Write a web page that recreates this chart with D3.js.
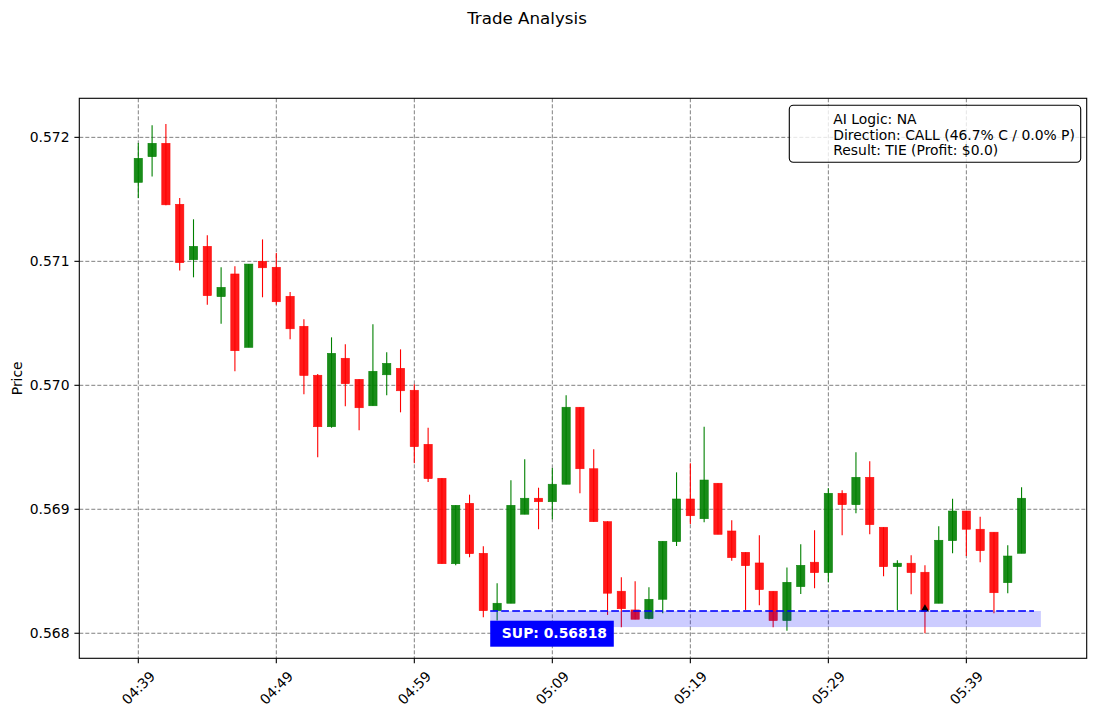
<!DOCTYPE html>
<html><head><meta charset="utf-8">
<script src="https://cdn.jsdelivr.net/npm/d3@7"></script>
<style>
body{margin:0;background:#fff}
svg{display:block}
text{font-family:"DejaVu Sans",sans-serif}
</style>
</head><body>
<svg id="chart" width="1096" height="716"></svg>
<script>
const times = ["04:39","04:40","04:41","04:42","04:43","04:44","04:45","04:46","04:47","04:48",
"04:49","04:50","04:51","04:52","04:53","04:54","04:55","04:56","04:57","04:58",
"04:59","05:00","05:01","05:02","05:03","05:04","05:05","05:06","05:07","05:08",
"05:09","05:10","05:11","05:12","05:13","05:14","05:15","05:16","05:17","05:18",
"05:19","05:20","05:21","05:22","05:23","05:24","05:25","05:26","05:27","05:28",
"05:29","05:30","05:31","05:32","05:33","05:34","05:35","05:36","05:37","05:38",
"05:39","05:40","05:41","05:42","05:43"];
const opens = [0.571637,0.571844,0.571952,0.571460,0.571013,0.571121,0.570715,0.570898,0.570306,0.571000,
0.570952,0.570718,0.570476,0.570081,0.569666,0.570218,0.570048,0.569835,0.570085,0.570137,
0.569960,0.569524,0.569250,0.568561,0.569048,0.568645,0.568182,0.568242,0.568960,0.569089,
0.569061,0.569202,0.569823,0.569327,0.568900,0.568339,0.568188,0.568118,0.568274,0.568739,
0.569083,0.568924,0.569210,0.568825,0.568653,0.568567,0.568339,0.568102,0.568376,0.568573,
0.568489,0.569129,0.569037,0.569258,0.568855,0.568537,0.568565,0.568492,0.568242,0.568747,
0.568986,0.568839,0.568815,0.568408,0.568645];
const highs = [0.571954,0.572097,0.572107,0.571510,0.571339,0.571210,0.570952,0.570960,0.570978,0.571177,
0.571067,0.570752,0.570532,0.570091,0.570387,0.570331,0.570048,0.570492,0.570266,0.570290,
0.570008,0.569658,0.569250,0.569032,0.569118,0.568702,0.568403,0.569234,0.569403,0.569174,
0.569333,0.569919,0.569823,0.569484,0.568903,0.568452,0.568419,0.568371,0.568742,0.569298,
0.569371,0.569666,0.569210,0.568911,0.568653,0.568790,0.568339,0.568531,0.568718,0.568831,
0.569169,0.569153,0.569460,0.569387,0.568855,0.568589,0.568629,0.568548,0.568863,0.569085,
0.568986,0.568940,0.568815,0.568710,0.569177];
const lows = [0.571510,0.571685,0.571452,0.570927,0.570871,0.570650,0.570497,0.570113,0.570306,0.570710,
0.570650,0.570371,0.569928,0.569419,0.569658,0.569831,0.569637,0.569835,0.569919,0.569782,
0.569371,0.569220,0.568561,0.568548,0.568613,0.568129,0.568102,0.568242,0.568960,0.568839,
0.568919,0.569202,0.569129,0.568900,0.568148,0.568048,0.568113,0.568113,0.568161,0.568704,
0.568881,0.568895,0.568798,0.568585,0.568188,0.568226,0.568048,0.568020,0.568317,0.568363,
0.568411,0.568790,0.568968,0.568798,0.568460,0.568188,0.568315,0.568000,0.568242,0.568645,
0.568623,0.568573,0.568161,0.568323,0.568645];
const closes = [0.571831,0.571952,0.571456,0.570989,0.571121,0.570723,0.570790,0.570279,0.570978,0.570948,
0.570674,0.570456,0.570079,0.569666,0.570258,0.570013,0.569819,0.570113,0.570177,0.569956,
0.569505,0.569247,0.568561,0.569032,0.568642,0.568182,0.568242,0.569032,0.569089,0.569061,
0.569202,0.569823,0.569327,0.568900,0.568323,0.568198,0.568113,0.568274,0.568742,0.569083,
0.568948,0.569236,0.568798,0.568610,0.568545,0.568352,0.568102,0.568411,0.568548,0.568489,
0.569129,0.569037,0.569258,0.568876,0.568537,0.568565,0.568489,0.568188,0.568750,0.568986,
0.568839,0.568666,0.568327,0.568623,0.569089];
const xTickLabels = ["04:39","04:49","04:59","05:09","05:19","05:29","05:39"];
const yTickValues = [0.568,0.569,0.570,0.571,0.572];
const supportLevel = 0.56818;
const supportZoneLow = 0.568050;
const supportStart = "05:04:30";
const supportLineEnd = "05:43:54";
const supportZoneEnd = "05:44:24";
const supportLabel = " SUP: 0.56818";
const entryTime = "05:36";
const entryPrice = 0.568195;
const infoLines = ["AI Logic: NA","Direction: CALL (46.7% C / 0.0% P)","Result: TIE (Profit: $0.0)"];
const titleText = "Trade Analysis";
const yAxisTitle = "Price";

const parseHM = d3.timeParse("%H:%M");
const parseHMS = d3.timeParse("%H:%M:%S");
const MIN = 60000;
const candles = times.map((t,i)=>({t:parseHM(t),o:opens[i],h:highs[i],l:lows[i],c:closes[i]}));
const t0 = candles[0].t.getTime();

const L=79.3,R=1086.7,T=98.3,B=658.3;
const x = d3.scaleTime().domain([new Date(t0-4.275*MIN), new Date(t0+68.72*MIN)]).range([L,R]);
const y = d3.scaleLinear().domain([0.567798,0.572315]).range([B,T]);

const svg = d3.select("#chart");
const gridColor="#808080";

// grid
const xt = xTickLabels.map(parseHM);
svg.append("g").selectAll("line").data(xt).join("line")
  .attr("x1",d=>x(d)).attr("x2",d=>x(d)).attr("y1",T).attr("y2",B)
  .attr("stroke",gridColor).attr("stroke-width",1).attr("stroke-dasharray","4,2");
svg.append("g").selectAll("line").data(yTickValues).join("line")
  .attr("y1",d=>y(d)).attr("y2",d=>y(d)).attr("x1",L).attr("x2",R)
  .attr("stroke",gridColor).attr("stroke-width",1).attr("stroke-dasharray","4,2");

// candles
const halfW = (x(new Date(t0+0.6*MIN))-x(new Date(t0)))/2;
const col = d=>d.c>=d.o?"#008000":"#ff0000";
svg.append("g").selectAll("line").data(candles).join("line")
  .attr("x1",d=>x(d.t)).attr("x2",d=>x(d.t)).attr("y1",d=>y(d.h)).attr("y2",d=>y(d.l))
  .attr("stroke",col).attr("stroke-width",1.1);
svg.append("g").selectAll("rect").data(candles).join("rect")
  .attr("x",d=>x(d.t)-halfW).attr("width",2*halfW)
  .attr("y",d=>y(Math.max(d.o,d.c)))
  .attr("height",d=>Math.max(0.6,Math.abs(y(d.o)-y(d.c))))
  .attr("fill",col).attr("fill-opacity",0.9)
  .attr("stroke",col).attr("stroke-opacity",0.9).attr("stroke-width",0.6);

// entry marker
const ex=x(parseHM(entryTime)), ey=y(entryPrice);
svg.append("path").attr("d",d3.symbol().type(d3.symbolTriangle).size(30)())
  .attr("transform",`translate(${ex},${ey})`).attr("fill","#000");

// support zone
const xs=x(parseHMS(supportStart)), xle=x(parseHMS(supportLineEnd)), xze=x(parseHMS(supportZoneEnd));
svg.append("rect").attr("x",xs).attr("width",xze-xs)
  .attr("y",y(supportLevel)).attr("height",y(supportZoneLow)-y(supportLevel))
  .attr("fill","#0000ff").attr("fill-opacity",0.2);
svg.append("line").attr("x1",xs).attr("x2",xle).attr("y1",y(supportLevel)).attr("y2",y(supportLevel))
  .attr("stroke","#0000ff").attr("stroke-opacity",0.8).attr("stroke-width",2.1).attr("stroke-dasharray","7.7,3.3");

// support label
const lblG = svg.append("g");
const lblRect = lblG.append("rect").attr("fill","#0000ff");
const lblText = lblG.append("text").attr("x",xs+6.8).attr("y",638.3)
  .attr("fill","#fff").attr("font-weight","bold").attr("font-size",13.9)
  .attr("xml:space","preserve").style("white-space","pre").text(supportLabel);
const lw = lblText.node().getComputedTextLength();
lblRect.attr("x",xs).attr("y",620.7).attr("width",lw+13.6).attr("height",26);

// spines
svg.append("rect").attr("x",L).attr("y",T).attr("width",R-L).attr("height",B-T)
  .attr("fill","none").attr("stroke","#000").attr("stroke-width",1.1);

// x ticks
const tickLen=4.9;
const xg = svg.append("g");
xt.forEach((d,i)=>{
  const px=x(d);
  xg.append("line").attr("x1",px).attr("x2",px).attr("y1",B).attr("y2",B+tickLen).attr("stroke","#000").attr("stroke-width",1.1);
  const tx = xg.append("text").attr("font-size",13.9).attr("text-anchor","middle").attr("dominant-baseline","central").text(xTickLabels[i]);
  const w = tx.node().getComputedTextLength();
  const h = 16;
  const cy = B+tickLen+4.9+(w+h)*Math.SQRT1_2/2;
  tx.attr("transform",`translate(${px},${cy}) rotate(-45)`);
});
// y ticks
const yg = svg.append("g");
yTickValues.forEach(v=>{
  const py=y(v);
  yg.append("line").attr("x1",L-tickLen).attr("x2",L).attr("y1",py).attr("y2",py).attr("stroke","#000").attr("stroke-width",1.1);
  yg.append("text").attr("x",L-tickLen-4.9).attr("y",py).attr("font-size",13.9)
    .attr("text-anchor","end").attr("dominant-baseline","central").text(d3.format(".3f")(v));
});

// axis title
svg.append("text").attr("transform",`translate(17,${(T+B)/2}) rotate(-90)`)
  .attr("text-anchor","middle").attr("dominant-baseline","central").attr("font-size",13.9).text(yAxisTitle);
// title
svg.append("text").attr("x",527).attr("y",24).attr("text-anchor","middle").attr("font-size",16.7).text(titleText);

// info box
svg.append("rect").attr("x",789.3).attr("y",105.3).attr("width",291.4).attr("height",57)
  .attr("rx",4).attr("ry",4).attr("fill","#fff").attr("fill-opacity",0.8)
  .attr("stroke","#000").attr("stroke-width",1.1);
svg.append("g").selectAll("text").data(infoLines).join("text")
  .attr("x",833.3).attr("y",(d,i)=>124.2+i*15.4).attr("font-size",13.9).text(d=>d);
</script>
</body></html>
